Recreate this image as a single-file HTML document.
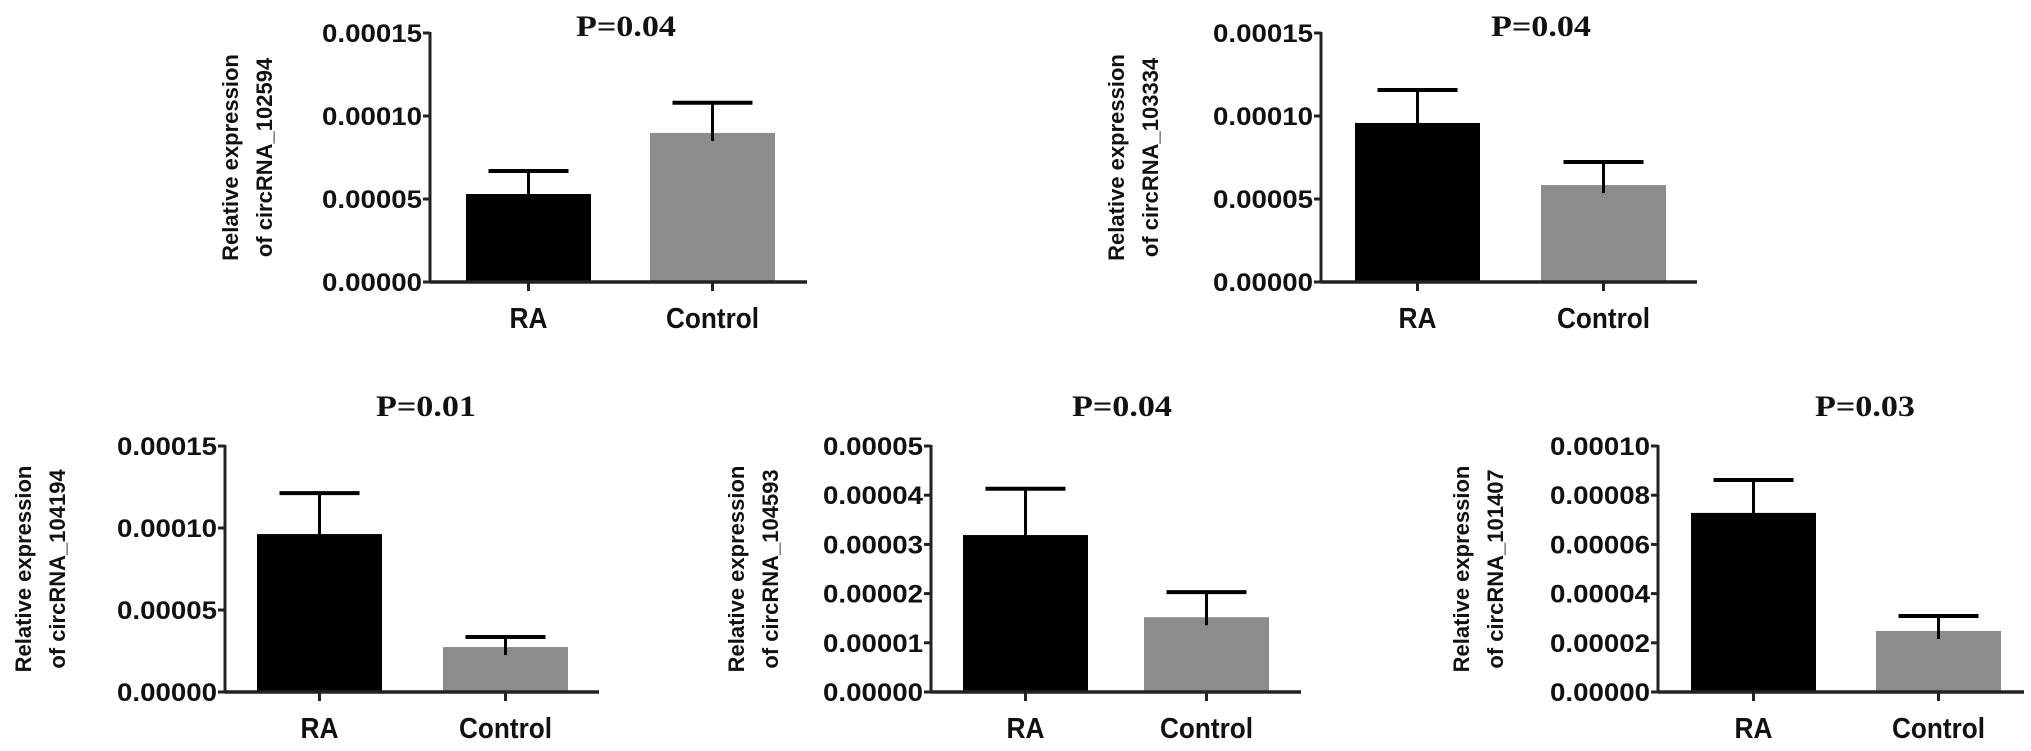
<!DOCTYPE html>
<html><head><meta charset="utf-8"><style>
html,body{margin:0;padding:0;background:#fff;}
svg{display:block;}
text{font-family:"Liberation Sans",sans-serif;font-weight:bold;fill:#111;}
.title{font-family:"Liberation Serif",serif;}
</style></head><body>
<svg id="fig" width="2031" height="751" viewBox="0 0 2031 751"></svg>
<script>
const categories = ["RA", "Control"];
const titles = ["P=0.04", "P=0.04", "P=0.01", "P=0.04", "P=0.03"];
const genes = ["circRNA_102594", "circRNA_103334", "circRNA_104194", "circRNA_104593", "circRNA_101407"];
const meanValues = [
  [0.000053, 0.0000898],
  [0.0000958, 0.0000584],
  [0.0000963, 0.0000274],
  [0.0000319, 0.0000152],
  [0.0000728, 0.0000248]
];
const errValues = [
  [0.0000139, 0.0000182],
  [0.0000199, 0.0000139],
  [0.000025, 0.0000061],
  [0.0000094, 0.0000051],
  [0.0000134, 0.0000061]
];
const yMaxes = [0.00015, 0.00015, 0.00015, 0.00005, 0.0001];
const tickLabels = [
  ["0.00000","0.00005","0.00010","0.00015"],
  ["0.00000","0.00005","0.00010","0.00015"],
  ["0.00000","0.00005","0.00010","0.00015"],
  ["0.00000","0.00001","0.00002","0.00003","0.00004","0.00005"],
  ["0.00000","0.00002","0.00004","0.00006","0.00008","0.00010"]
];
// layout (pixels)
const layout = [
  {ax:430, axEnd:807, yTop:33, y0:282, bars:[466,650], tx:626, ty:36, lx:230},
  {ax:1321, axEnd:1697, yTop:33, y0:282, bars:[1355,1541], tx:1541, ty:36, lx:1116},
  {ax:225, axEnd:599, yTop:446, y0:692, bars:[257,443], tx:426, ty:416, lx:23},
  {ax:931, axEnd:1301, yTop:446, y0:692, bars:[963,1144], tx:1122, ty:416, lx:736},
  {ax:1658, axEnd:2024, yTop:446, y0:692, bars:[1691,1876], tx:1865, ty:416, lx:1461}
];
const NS = "http://www.w3.org/2000/svg";
const svg = document.getElementById("fig");
function mk(tag, attrs, parent){
  const e = document.createElementNS(NS, tag);
  for (const k in attrs) e.setAttribute(k, attrs[k]);
  (parent||svg).appendChild(e);
  return e;
}
const barW = 125, capW = 80;
const colors = ["#000000", "#8c8c8c"];
layout.forEach((L, p) => {
  const g = mk("g", {});
  
  
  const yScale = v => L.y0 - (v / yMaxes[p]) * (L.y0 - L.yTop);
  const t = mk("text", {x:L.tx, y:L.ty, "text-anchor":"middle", "font-size":30, class:"title", textLength:100, lengthAdjust:"spacingAndGlyphs"}, g);
  t.textContent = titles[p];
  
  
  const cy = (L.yTop + L.y0) / 2;
  const yl = mk("text", {transform:`translate(${L.lx+8},${cy}) rotate(-90)`, "text-anchor":"middle", "font-size":22}, g);
  
  
  const t1 = mk("tspan", {x:0, y:0}, yl); t1.textContent = "Relative expression";
  const t2 = mk("tspan", {x:0, y:34}, yl); t2.textContent = "of " + genes[p];
  const labs = tickLabels[p];
  labs.forEach((lab, i) => {
    const v = yMaxes[p] * i / (labs.length - 1);
    const y = yScale(v);
    const tk = mk("line", {x1:L.ax-7, x2:L.ax, y1:y, y2:y, stroke:"#222", "stroke-width":3}, g);
    
    
    const tl = mk("text", {x:L.ax-8, y:y+9, "text-anchor":"end", "font-size":25, textLength:100, lengthAdjust:"spacingAndGlyphs"}, g);
    tl.textContent = lab;
    
    
  });
  categories.forEach((c, i) => {
    const x = L.bars[i], cx = x + barW / 2;
    const yv = yScale(meanValues[p][i]);
    const ye = yScale(meanValues[p][i] + errValues[p][i]);
    const b = mk("rect", {x:x, y:yv, width:barW, height:L.y0 - yv, fill:colors[i]}, g);
    
    
    const el = mk("line", {x1:cx, x2:cx, y1:yv+8, y2:ye, stroke:"#000", "stroke-width":3}, g);
    
    
    const cap = mk("line", {x1:cx-capW/2, x2:cx+capW/2, y1:ye, y2:ye, stroke:"#000", "stroke-width":4}, g);
    
    
    const xt = mk("line", {x1:cx, x2:cx, y1:L.y0, y2:L.y0+9, stroke:"#222", "stroke-width":3}, g);
    
    
    const xl = mk("text", {x:cx, y:L.y0+46, "text-anchor":"middle", "font-size":29, textLength:(c==="RA"?38:93), lengthAdjust:"spacingAndGlyphs"}, g);
    xl.textContent = c;
    
    
  });
  const ya = mk("line", {x1:L.ax, x2:L.ax, y1:L.yTop-1, y2:L.y0+1, stroke:"#222", "stroke-width":3}, g);
  
  
  const xa = mk("line", {x1:L.ax, x2:L.axEnd, y1:L.y0, y2:L.y0, stroke:"#222", "stroke-width":3.5}, g);
  
  
});
</script>
</body></html>
